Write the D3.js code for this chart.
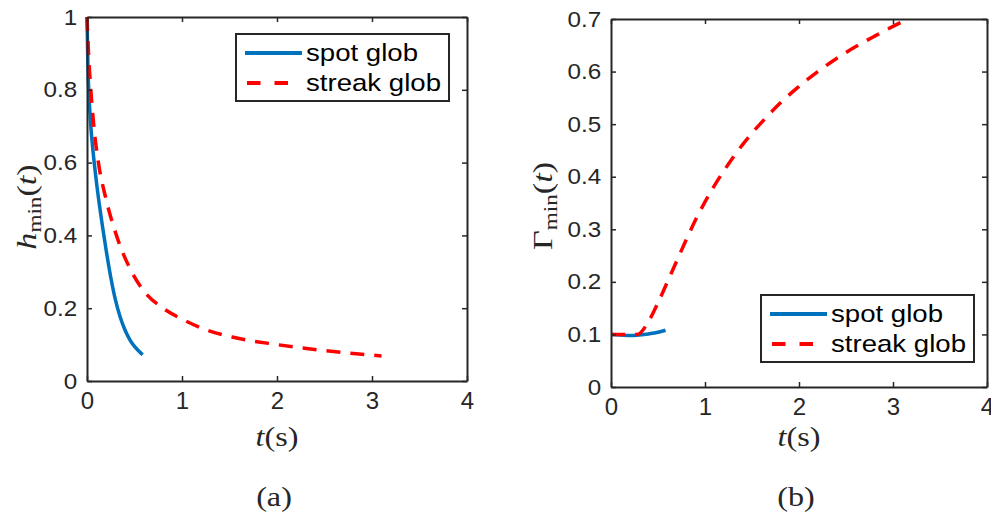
<!DOCTYPE html>
<html>
<head>
<meta charset="utf-8">
<script src="https://cdn.jsdelivr.net/npm/d3@7"></script>
<style>
  body { margin: 0; background: #fff; }
  svg { display: block; }
</style>
</head>
<body>
<div id="chart"></div>
<script>
// values
const tTicks = [0, 1, 2, 3, 4];
const tTickLabels = ["0", "1", "2", "3", "4"];
const hTicks = [0, 0.2, 0.4, 0.6, 0.8, 1];
const hTickLabels = ["0", "0.2", "0.4", "0.6", "0.8", "1"];
const gTicks = [0, 0.1, 0.2, 0.3, 0.4, 0.5, 0.6, 0.7];
const gTickLabels = ["0", "0.1", "0.2", "0.3", "0.4", "0.5", "0.6", "0.7"];
const seriesNames = ["spot glob", "streak glob"];

// panel (a): h_min(t)
const hSpot = [[0, 1], [0.01, 0.86], [0.02, 0.79], [0.04, 0.7], [0.06, 0.64], [0.08, 0.59],
  [0.1, 0.545], [0.13, 0.485], [0.16, 0.43], [0.2, 0.362], [0.25, 0.285], [0.3, 0.222],
  [0.35, 0.175], [0.4, 0.14], [0.45, 0.114], [0.5, 0.095], [0.55, 0.081], [0.586, 0.072]];
const hStreak = [[0, 1], [0.02, 0.88], [0.04, 0.8], [0.08, 0.68], [0.12, 0.6], [0.2, 0.5],
  [0.31, 0.4], [0.47, 0.3], [0.59, 0.25], [0.8, 0.2], [1.0, 0.17], [1.26, 0.14],
  [1.54, 0.12], [2.0, 0.1], [2.45, 0.085], [3.1, 0.069]];

// panel (b): Gamma_min(t)
const gSpot = [[0, 0.1], [0.1, 0.099], [0.2, 0.098], [0.3, 0.099], [0.4, 0.101],
  [0.5, 0.104], [0.58, 0.108]];
const gStreak = [[0, 0.1], [0.15, 0.1], [0.28, 0.1], [0.4, 0.125], [0.5, 0.16],
  [0.6, 0.2], [0.7, 0.24], [0.8, 0.28], [0.9, 0.318], [1.0, 0.352], [1.1, 0.383],
  [1.2, 0.411], [1.3, 0.437], [1.4, 0.461], [1.5, 0.483], [1.6, 0.503], [1.8, 0.54],
  [2.0, 0.572], [2.2, 0.6], [2.4, 0.625], [2.6, 0.647], [2.8, 0.667], [3.0, 0.686],
  [3.1, 0.695]];

const blue = "#0072BD";
const red = "#FF0000";
const ink = "#262626";
const sans = "'Liberation Sans', Arial, Helvetica, sans-serif";
const serif = "'Liberation Serif', 'Times New Roman', serif";

const svg = d3.select("#chart")
  .append("svg")
  .attr("width", 991)
  .attr("height", 514);

function drawPanel(p) {
  const x = d3.scaleLinear().domain([0, 4]).range([p.left, p.right]);
  const y = d3.scaleLinear().domain(p.yDomain).range([p.bottom, p.top]);

  const line = d3.line()
    .x(d => x(d[0]))
    .y(d => y(d[1]))
    .curve(d3.curveMonotoneX);

  // curves first, box and ticks above
  svg.append("path")
    .datum(p.spot)
    .attr("fill", "none")
    .attr("stroke", blue)
    .attr("stroke-width", 3.5)
    .attr("d", line);

  svg.append("path")
    .datum(p.streak)
    .attr("fill", "none")
    .attr("stroke", red)
    .attr("stroke-width", 3.5)
    .attr("stroke-dasharray", "14,10")
    .attr("d", line);

  // bottom axis with labels
  const gx = svg.append("g")
    .attr("transform", `translate(0,${p.bottom})`)
    .call(d3.axisBottom(x).tickValues(tTicks).tickFormat((d, i) => tTickLabels[i])
      .tickSizeInner(-5).tickSizeOuter(0).tickPadding(11));
  gx.selectAll("text").attr("font-size", 24).attr("font-family", sans);

  svg.append("g")
    .attr("transform", `translate(0,${p.top})`)
    .call(d3.axisTop(x).tickValues(tTicks).tickFormat("")
      .tickSizeInner(-5).tickSizeOuter(0));

  const gy = svg.append("g")
    .attr("transform", `translate(${p.left},0)`)
    .call(d3.axisLeft(y).tickValues(p.yTicks).tickFormat((d, i) => p.yTickLabels[i])
      .tickSizeInner(-5).tickSizeOuter(0).tickPadding(9));
  gy.selectAll("text")
    .attr("font-size", 22)
    .attr("font-family", sans)
    .attr("transform", "scale(1.1,1)");

  svg.append("g")
    .attr("transform", `translate(${p.right},0)`)
    .call(d3.axisRight(y).tickValues(p.yTicks).tickFormat("")
      .tickSizeInner(-5).tickSizeOuter(0));

  svg.selectAll("g").style("color", ink);
  svg.selectAll(".domain").attr("stroke-width", 2);
  svg.selectAll(".tick line").attr("stroke-width", 1.5);

  // legend
  const lg = svg.append("g").attr("transform", `translate(${p.legX},${p.legY})`);
  lg.append("rect")
    .attr("width", 213)
    .attr("height", 67)
    .attr("fill", "#fff")
    .attr("stroke", ink)
    .attr("stroke-width", 2);
  const rows = [
    { name: seriesNames[0], color: blue, dash: null, y: 19 },
    { name: seriesNames[1], color: red, dash: "13.5,14", y: 49 }
  ];
  rows.forEach(r => {
    lg.append("line")
      .attr("x1", r.dash ? 11 : 9)
      .attr("x2", r.dash ? 53 : 66)
      .attr("y1", r.y)
      .attr("y2", r.y)
      .attr("stroke", r.color)
      .attr("stroke-width", 4)
      .attr("stroke-dasharray", r.dash);
    lg.append("g")
      .attr("transform", `translate(70,${r.y + 7.5}) scale(1.15,1)`)
      .append("text")
      .attr("font-family", sans)
      .attr("font-size", 24)
      .attr("fill", "#000")
      .text(r.name);
  });

  // y label (rotated, LaTeX-like)
  const yl = svg.append("g")
    .attr("transform", `translate(${p.yLabX},${p.yLabY}) rotate(-90) scale(1.22,1)`)
    .append("text")
    .attr("text-anchor", "middle")
    .attr("font-family", serif)
    .attr("font-size", 28)
    .attr("fill", ink);
  yl.append("tspan").attr("font-style", p.symItalic ? "italic" : "normal").text(p.sym);
  yl.append("tspan").attr("font-size", 19).attr("dy", 5).text("min");
  yl.append("tspan").attr("dy", -5).text("(");
  yl.append("tspan").attr("font-style", "italic").text("t");
  yl.append("tspan").text(")");

  // x label
  const cx = (p.left + p.right) / 2;
  const xl = svg.append("g")
    .attr("transform", `translate(${cx},446) scale(1.15,1)`)
    .append("text")
    .attr("text-anchor", "middle")
    .attr("font-family", serif)
    .attr("font-size", 28)
    .attr("fill", ink);
  xl.append("tspan").attr("font-style", "italic").text("t");
  xl.append("tspan").text("(s)");

  // panel caption
  svg.append("g")
    .attr("transform", `translate(${cx - 3},506) scale(1.15,1)`)
    .append("text")
    .attr("text-anchor", "middle")
    .attr("font-family", serif)
    .attr("font-size", 28)
    .attr("fill", ink)
    .text(p.caption);
}

drawPanel({
  left: 87, right: 467, top: 17, bottom: 381,
  yDomain: [0, 1], yTicks: hTicks, yTickLabels: hTickLabels,
  spot: hSpot, streak: hStreak,
  legX: 236, legY: 34,
  sym: "h", symItalic: true, yLabX: 36, yLabY: 207,
  caption: "(a)"
});

drawPanel({
  left: 611, right: 987, top: 19, bottom: 387,
  yDomain: [0, 0.7], yTicks: gTicks, yTickLabels: gTickLabels,
  spot: gSpot, streak: gStreak,
  legX: 761, legY: 295,
  sym: "Γ", symItalic: false, yLabX: 552, yLabY: 206,
  caption: "(b)"
});
</script>
</body>
</html>
